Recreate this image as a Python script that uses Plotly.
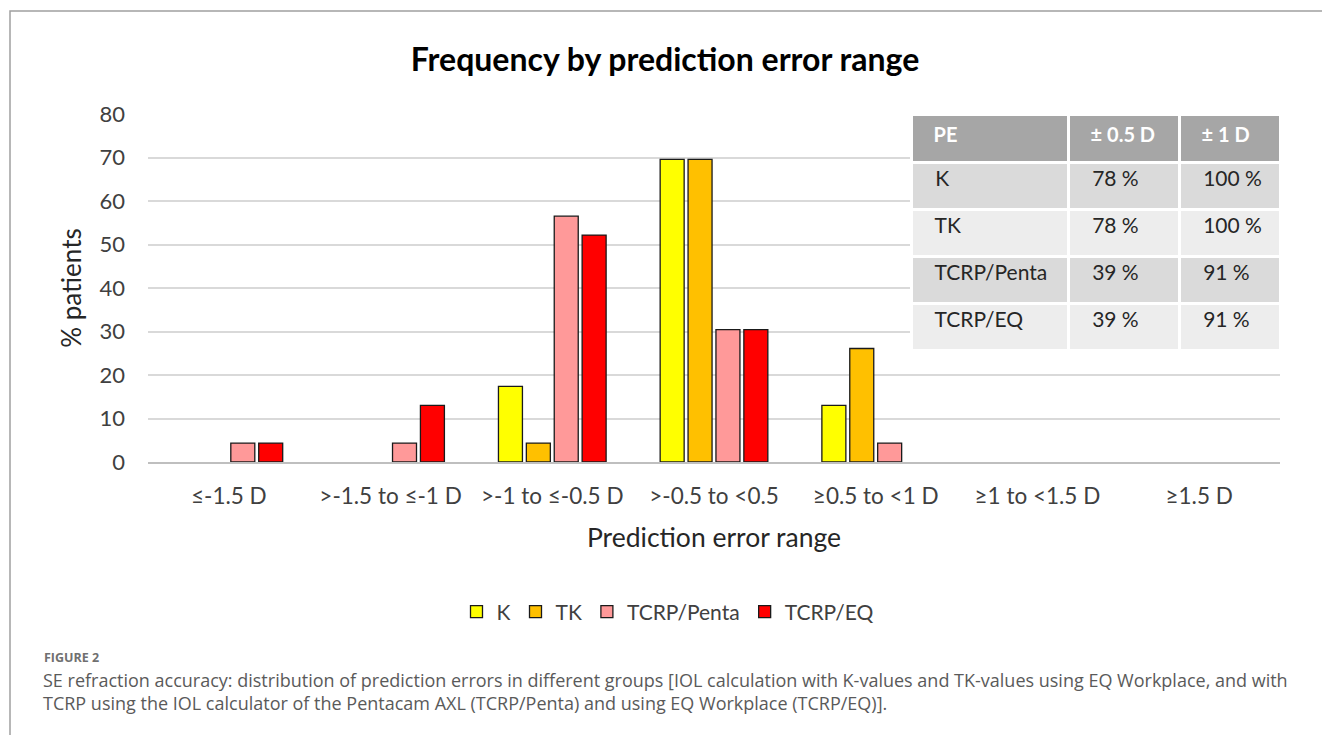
import plotly.graph_objects as go

categories = ["≤-1.5 D", ">-1.5 to ≤-1 D", ">-1 to ≤-0.5 D", ">-0.5 to <0.5",
              "≥0.5 to <1 D", "≥1 to <1.5 D", "≥1.5 D"]
k_values = [0, 0, 17.39, 69.57, 13.04, 0, 0]
tk_values = [0, 0, 4.35, 69.57, 26.09, 0, 0]
penta_values = [4.35, 4.35, 56.52, 30.43, 4.35, 0, 0]
eq_values = [4.35, 13.04, 52.17, 30.43, 0, 0, 0]
series_names = ["K", "TK", "TCRP/Penta", "TCRP/EQ"]
series_colors = ["#FFFF00", "#FFC000", "#FF9999", "#FF0000"]

table_header = ["PE", "± 0.5 D", "± 1 D"]
table_groups = ["K", "TK", "TCRP/Penta", "TCRP/EQ"]
table_within_05 = ["78 %", "78 %", "39 %", "39 %"]
table_within_1 = ["100 %", "100 %", "91 %", "91 %"]

y_ticks = [0, 10, 20, 30, 40, 50, 60, 70, 80]

FONT = "Lato"
W, H = 1322, 735
OX, OY = 0, 0  # body margin is removed in the written page
# plot area in page pixels
PL, PR, PT, PB = 148, 1280, 114, 462
L, T = PL - OX, PT - OY
R, B = W - (PR - OX), H - (PB - OY)
PW, PH = PR - PL, PB - PT


def px_x(px):
    return (px - PL) / PW


def px_y(py):
    return (PB - py) / PH


fig = go.Figure()
all_values = [k_values, tk_values, penta_values, eq_values]
for name, vals, col in zip(series_names, all_values, series_colors):
    fig.add_trace(go.Bar(
        x=categories,
        y=[v if v > 0 else None for v in vals],
        name=name,
        marker=dict(color=col, line=dict(color="#1a1a1a", width=1.3)),
        hoverinfo="x+y+name",
    ))

pad = "\u00a0" * 3
fill_rows = ["#DADADA", "#EDEDED", "#DADADA", "#EDEDED"]
fig.add_trace(go.Table(
    domain=dict(x=[px_x(911), px_x(1280)], y=[px_y(352), 1.0]),
    columnwidth=[157, 111, 101],
    header=dict(
        values=["<b>" + pad + h + "</b>" for h in table_header],
        fill_color="#A6A6A6",
        line=dict(color="white", width=3),
        align="left",
        height=48,
        font=dict(family=FONT, size=20, color="white"),
    ),
    cells=dict(
        values=[[pad + v for v in table_groups],
                [pad + v for v in table_within_05],
                [pad + v for v in table_within_1]],
        fill_color=[fill_rows] * 3,
        line=dict(color="white", width=3),
        align="left",
        height=47,
        font=dict(family=FONT, size=21, color="#262626"),
    ),
))

fig.update_layout(
    width=W, height=H,
    margin=dict(l=L, r=R, t=T, b=B, autoexpand=False),
    paper_bgcolor="white", plot_bgcolor="white",
    font=dict(family=FONT, color="#404040"),
    barmode="group", bargap=0.31, bargroupgap=0.14,
    title=dict(text="<b>Frequency by prediction error range</b>",
               font=dict(family=FONT, size=32, color="black"),
               xref="container", x=(665 - OX) / W, xanchor="center",
               yref="container", y=1 - (60 - OY) / H, yanchor="middle"),
    legend=dict(orientation="h", x=px_x(668), xanchor="center",
                y=px_y(612), yanchor="middle",
                font=dict(family=FONT, size=21, color="#404040"),
                itemwidth=30, tracegroupgap=0),
    showlegend=True,
)

fig.update_xaxes(
    showgrid=False, showline=True, linecolor="#BFBFBF", linewidth=1.5,
    ticks="", tickfont=dict(family=FONT, size=22.5, color="#404040"),
    ticklabelstandoff=13,
    title=dict(text="Prediction error range", font=dict(family=FONT, size=26.5, color="#262626"),
               standoff=21),
    automargin=False,
)
fig.update_yaxes(
    range=[0, 80], tickvals=y_ticks, showgrid=True, gridcolor="#D9D9D9", gridwidth=2,
    zeroline=False, showline=False, ticks="",
    tickfont=dict(family=FONT, size=22, color="#404040"),
    ticklabelstandoff=22,
    title=dict(text="% patients", font=dict(family=FONT, size=26, color="#262626"),
               standoff=10),
    automargin=False,
)

# outer frame of the figure panel
fig.add_shape(type="rect", xref="paper", yref="paper",
              x0=px_x(10), x1=px_x(1340), y0=px_y(760), y1=px_y(11),
              line=dict(color="#A0A0A0", width=1.5), fillcolor="rgba(0,0,0,0)",
              layer="below")

fig.add_annotation(xref="paper", yref="paper", x=px_x(42), y=px_y(657),
                   xanchor="left", yanchor="middle", showarrow=False,
                   text="<b>FIGURE 2</b>",
                   font=dict(family="Open Sans", size=12.5, color="#707070"))
fig.add_annotation(xref="paper", yref="paper", x=px_x(41), y=px_y(691),
                   xanchor="left", yanchor="middle", showarrow=False, align="left",
                   text=("SE refraction accuracy: distribution of prediction errors in different groups "
                         "[IOL calculation with K-values and TK-values using EQ Workplace, and with<br>"
                         "TCRP using the IOL calculator of the Pentacam AXL (TCRP/Penta) and using "
                         "EQ Workplace (TCRP/EQ)]."),
                   font=dict(family="Open Sans", size=18, color="#5a5a5a"))

fig.write_html("out.html",
               config={"displayModeBar": False},
               post_script="document.body.style.margin='0';document.body.style.overflow='hidden';")
